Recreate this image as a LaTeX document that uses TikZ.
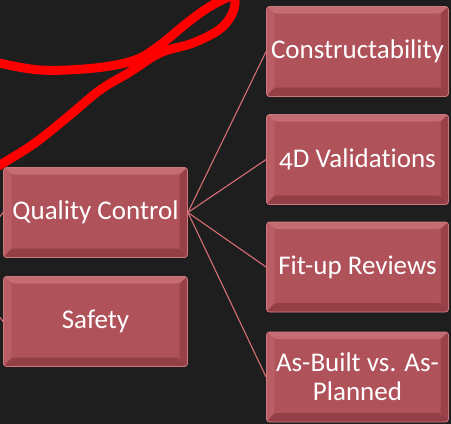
\documentclass[tikz,border=0pt]{standalone}
\usepackage{fontspec}
\setmainfont[Ligatures=NoCommon,Numbers=OldStyle]{Carlito}
\definecolor{bg}{RGB}{30,30,30}
\definecolor{boxface}{RGB}{176,82,90}
\definecolor{boxlight}{RGB}{196,108,114}
\definecolor{boxside}{RGB}{186,94,101}
\definecolor{boxdark}{RGB}{148,62,70}
\definecolor{boxedge}{RGB}{205,120,126}
\definecolor{conncol}{RGB}{214,110,116}
\definecolor{scribble}{RGB}{255,0,0}
\tikzset{
  box/.style={draw=boxedge, line width=0.8pt, rounded corners=3pt, fill=boxface,
    text=white, font=\fontsize{27}{29}\selectfont, align=center,
    minimum height=90pt, inner sep=0pt,
    path picture={
      \fill[boxlight] (path picture bounding box.north west) -- (path picture bounding box.north east)
        -- ([shift={(-8pt,-7pt)}]path picture bounding box.north east)
        -- ([shift={(8pt,-7pt)}]path picture bounding box.north west) -- cycle;
      \fill[boxside] (path picture bounding box.north west) -- ([shift={(8pt,-7pt)}]path picture bounding box.north west)
        -- ([shift={(8pt,9pt)}]path picture bounding box.south west)
        -- (path picture bounding box.south west) -- cycle;
      \fill[boxdark] (path picture bounding box.south west) -- (path picture bounding box.south east)
        -- ([shift={(-8pt,9pt)}]path picture bounding box.south east)
        -- ([shift={(8pt,9pt)}]path picture bounding box.south west) -- cycle;
      \fill[boxdark!85!boxface] (path picture bounding box.north east) -- ([shift={(-8pt,-7pt)}]path picture bounding box.north east)
        -- ([shift={(-8pt,9pt)}]path picture bounding box.south east)
        -- (path picture bounding box.south east) -- cycle;
    }},
  leftbox/.style={box, minimum width=184pt},
  rightbox/.style={box, minimum width=182pt},
  conn/.style={draw=conncol, line width=1.1pt},
}
\begin{document}
\begin{tikzpicture}[x=1pt,y=-1pt]
\useasboundingbox (0,0) rectangle (451,424);
\clip (0,0) rectangle (451,424);
\fill[bg] (0,0) rectangle (451,424);
% nodes
\node[leftbox] (qc) at (95.5,212.5) {Quality Control};
\node[leftbox] (safety) at (95.5,321.5) {Safety};
\node[rightbox] (c1) at (357.5,51.5) {Constructability};
\node[rightbox] (c2) at (357.5,159.5) {4D Validations};
\node[rightbox] (c3) at (357.5,267) {Fit-up Reviews};
\node[rightbox] (c4) at (357.5,377) {As-Built vs. As-\\Planned};
% connectors
\coordinate (parent) at (-40,267);
\draw[conn] (parent) -- (qc.west);
\draw[conn] (parent) -- (safety.west);
\draw[conn] (qc.east) -- (c1.west);
\draw[conn] (qc.east) -- (c2.west);
\draw[conn] (qc.east) -- (c3.west);
\draw[conn] (qc.east) -- (c4.west);
% red scribble
\draw[scribble, line width=9pt, line cap=round, line join=round]
  plot[smooth, tension=0.6] coordinates {(-5,62) (40,70) (95,68) (135,60) (160,45) (182,27) (203,11) (222,0) (234,-3) (233,12) (220,29) (193,43) (160,53) (130,72) (100,90) (70,115) (35,143) (5,162) (-5,168)};
\end{tikzpicture}
\end{document}
